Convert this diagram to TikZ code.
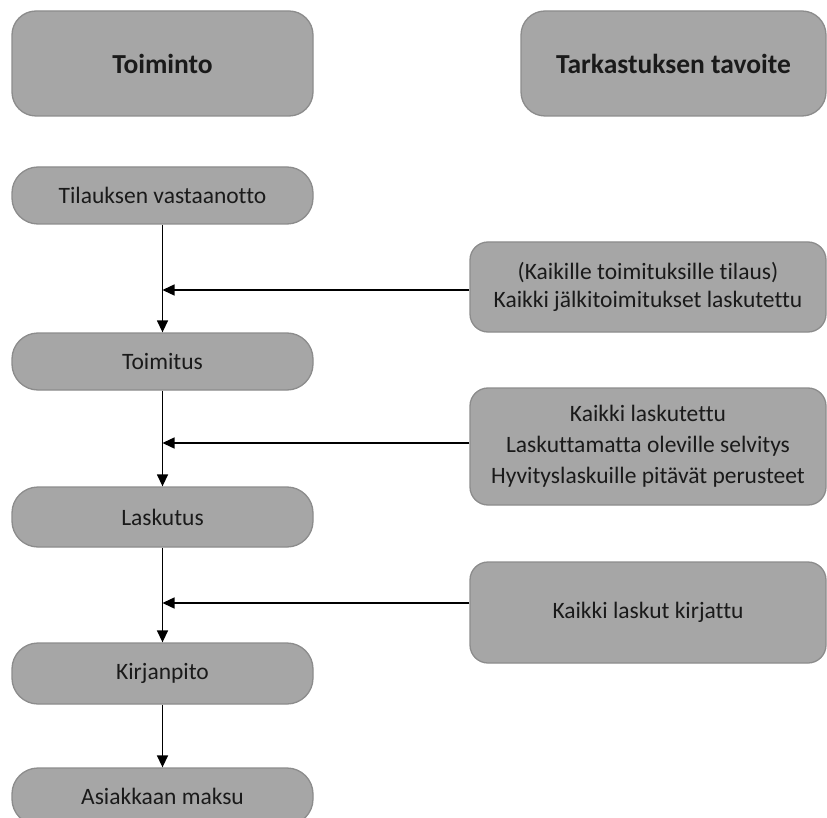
\documentclass[tikz,border=0pt]{standalone}
\usepackage{fontspec}
\setmainfont{Carlito}[Ligatures=NoCommon]
\usetikzlibrary{arrows.meta}
\definecolor{boxfill}{HTML}{A6A6A6}
\definecolor{boxline}{HTML}{8C8C8C}
\definecolor{txt}{HTML}{1A1A1A}
\begin{document}
\begin{tikzpicture}[x=1pt,y=-1pt,
  box/.style={draw=boxline, line width=1.3pt, fill=boxfill, inner sep=0pt, text=txt, align=center, font=\fontsize{23.5}{28}\selectfont},
  flowbox/.style={box, minimum width=301pt, minimum height=57pt, rounded corners=26pt},
  headbox/.style={box, minimum height=105pt, rounded corners=24pt, font=\fontsize{27.5}{32}\selectfont\bfseries},
  goalbox/.style={box, minimum width=356pt, rounded corners=18pt},
  conn/.style={line width=1.4pt, black, -{Triangle[length=12pt,width=11pt]}}
]
\useasboundingbox (0,0) rectangle (827,818);
\clip (0,0) rectangle (827,818);
\fill[white] (0,0) rectangle (827,818);
\node[headbox, minimum width=301pt] (h1) at (162.5,63.5) {Toiminto};
\node[headbox, minimum width=305pt] (h2) at (673.5,63.5) {Tarkastuksen tavoite};
\node[flowbox] (f1) at (162.5,195.5) {Tilauksen vastaanotto};
\node[flowbox] (f2) at (162.5,361.5) {Toimitus};
\node[flowbox, minimum height=60pt] (f3) at (162.5,517) {Laskutus};
\node[flowbox, minimum height=61pt] (f4) at (162.5,673.5) {Kirjanpito};
\node[flowbox] (f5) at (162.5,796.5) {Asiakkaan maksu};
\node[goalbox, minimum height=90pt] (g1) at (648,287) {(Kaikille toimituksille tilaus)\\Kaikki jälkitoimitukset laskutettu};
\node[goalbox, minimum height=117pt, font=\fontsize{23.5}{31}\selectfont] (g2) at (648,446.5) {Kaikki laskutettu\\Laskuttamatta oleville selvitys\\Hyvityslaskuille pitävät perusteet};
\node[goalbox, minimum height=101pt] (g3) at (648,612.5) {Kaikki laskut kirjattu};
\coordinate (j1) at (162.5,290);
\coordinate (j2) at (162.5,443);
\coordinate (j3) at (162.5,603);
\draw[conn] (f1.south) -- (f2.north);
\draw[conn] (f2.south) -- (f3.north);
\draw[conn] (f3.south) -- (f4.north);
\draw[conn] (f4.south) -- (f5.north);
\draw[conn] (g1.west |- j1) -- (j1);
\draw[conn] (g2.west |- j2) -- (j2);
\draw[conn] (g3.west |- j3) -- (j3);
\end{tikzpicture}
\end{document}
